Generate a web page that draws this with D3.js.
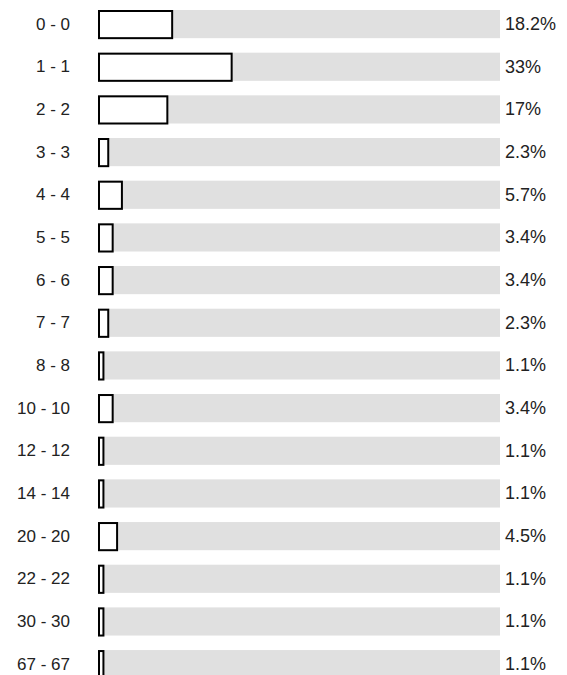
<!DOCTYPE html>
<html>
  <head>
    <meta charset="utf-8">
    <title>Distribution bars</title>
    <style>
      body {
        margin: 0px;
        overflow: hidden;
        background: white;
      }

      .track {
        fill: #e0e0e0;
      }

      .bar {
        fill: white;
        stroke: black;
        stroke-width: 2px;
      }

      .label, .value {
        font-family: Arial, "Liberation Sans", sans-serif;
        fill: #222;
        dominant-baseline: central;
      }

      .label {
        font-size: 17px;
      }

      .value {
        font-size: 18px;
      }
    </style>
  </head>
  <body>
    <svg id="container"></svg>
    <script src="https://cdn.jsdelivr.net/npm/d3@7/dist/d3.min.js"></script>
    <script type="text/javascript">
      var categories = ['0 - 0', '1 - 1', '2 - 2', '3 - 3', '4 - 4', '5 - 5', '6 - 6', '7 - 7',
        '8 - 8', '10 - 10', '12 - 12', '14 - 14', '20 - 20', '22 - 22', '30 - 30', '67 - 67'];
      var percents = [18.2, 33, 17, 2.3, 5.7, 3.4, 3.4, 2.3, 1.1, 3.4, 1.1, 1.1, 4.5, 1.1, 1.1, 1.1];
      var percentLabels = ['18.2%', '33%', '17%', '2.3%', '5.7%', '3.4%', '3.4%', '2.3%',
        '1.1%', '3.4%', '1.1%', '1.1%', '4.5%', '1.1%', '1.1%', '1.1%'];

      var width = 567,
        height = 675,
        left = 98,
        trackWidth = 402,
        step = 42.67,
        pad = 0.34,
        container = d3.select('#container')
          .attr('width', width)
          .attr('height', height);

      var x = d3.scaleLinear().domain([0, 100]).range([0, trackWidth]);
      var y = d3.scaleBand()
        .domain(categories)
        .range([10, 10 + step * (categories.length - pad)])
        .paddingInner(pad)
        .paddingOuter(0);

      var rows = container.selectAll('g.row')
        .data(categories)
        .enter().append('g')
        .attr('class', 'row')
        .attr('transform', function(d) { return 'translate(0,' + y(d) + ')'; });

      // grey track behind each bar
      rows.append('rect')
        .attr('class', 'track')
        .attr('x', left)
        .attr('width', trackWidth)
        .attr('height', y.bandwidth());

      rows.append('rect')
        .attr('class', 'bar')
        .attr('x', left + 1)
        .attr('y', 1)
        .attr('width', function(d, i) { return x(percents[i]); })
        .attr('height', y.bandwidth() - 1);

      rows.append('text')
        .attr('class', 'label')
        .attr('x', 70)
        .attr('y', y.bandwidth() / 2)
        .attr('text-anchor', 'end')
        .text(function(d) { return d; });

      rows.append('text')
        .attr('class', 'value')
        .attr('x', left + trackWidth + 5)
        .attr('y', y.bandwidth() / 2)
        .text(function(d, i) { return percentLabels[i]; });
    </script>
  </body>
</html>
